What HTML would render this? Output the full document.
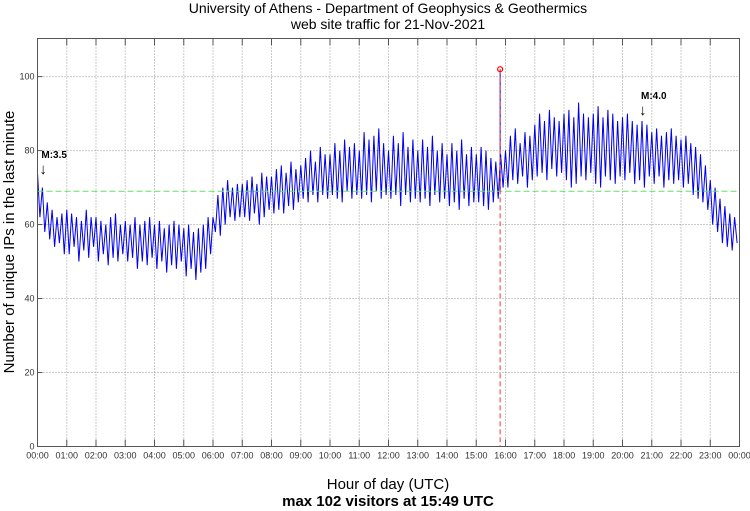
<!DOCTYPE html>
<html><head><meta charset="utf-8"><style>
body{margin:0;background:#fff}
svg{display:block;font-family:"Liberation Sans",sans-serif}
</style></head><body>
<svg id="chart" width="750" height="511" viewBox="0 0 750 511">
<text x="388" y="13" font-size="14" text-anchor="middle">University of Athens - Department of Geophysics &amp; Geothermics</text>
<text x="388" y="29" font-size="14" text-anchor="middle">web site traffic for 21-Nov-2021</text>
<g id="grid"></g>
<g id="series"></g>
<rect x="37.5" y="38.5" width="702" height="408" fill="none" stroke="#555" stroke-width="1"/>
<g id="axes"></g>
<text transform="translate(14,242) rotate(-90)" font-size="15" text-anchor="middle">Number of unique IPs in the last minute</text>
<text x="388" y="489" font-size="15" text-anchor="middle">Hour of day (UTC)</text>
<text x="388" y="506" font-size="15" font-weight="bold" text-anchor="middle">max 102 visitors at 15:49 UTC</text>
</svg>
<script>
const values = [
74,62,70,58,66,56,64,54,62,55,63,52,
64,52,63,54,62,50,61,53,64,51,62,54,
62,50,61,52,60,49,62,51,63,50,60,52,
61,50,60,51,62,48,60,50,61,49,62,51,
60,48,61,50,59,47,60,49,61,48,60,50,
59,46,60,48,58,45,59,47,60,48,62,52,
62,58,68,57,70,60,72,62,70,61,71,62,
71,62,72,61,73,63,71,60,74,62,73,64,
73,63,75,64,76,63,74,65,77,64,75,66,
76,67,78,66,80,68,77,66,81,68,79,67,
79,68,82,67,80,66,83,69,81,67,82,68,
80,67,85,68,83,66,84,69,86,67,82,68,
80,67,84,68,82,65,85,68,81,66,83,67,
80,66,83,67,81,65,84,68,80,66,82,67,
79,65,82,66,80,64,83,67,79,65,81,66,
79,66,81,65,80,64,78,66,77,67,79,70,
80,70,84,72,86,71,82,73,85,70,84,72,
87,73,90,74,88,72,91,75,89,73,88,74,
90,72,91,70,89,71,93,73,90,72,89,74,
90,71,92,70,89,73,91,72,90,71,88,73,
89,72,90,74,88,71,87,72,88,70,87,73,
85,71,86,73,84,70,85,72,86,71,84,72,
83,70,84,71,82,68,81,67,79,66,76,64,
72,60,70,58,67,55,65,54,63,53,62,55];
const stepMinutes = 5;
const yTicks = [0,20,40,60,80,100];
const xTickLabels = ["00:00","01:00","02:00","03:00","04:00","05:00","06:00","07:00","08:00","09:00","10:00","11:00","12:00","13:00","14:00","15:00","16:00","17:00","18:00","19:00","20:00","21:00","22:00","23:00","00:00"];
const meanValue = 69;
const maxValue = 102;
const maxMinute = 15*60+49;
const annotations = [{label:"M:3.5", minute:10, value:78},{label:"M:4.0", minute:20*60+40, value:94}];

const L=37.5,R=739.5,T=38.5,B=446.5,YMAX=110.3;
const xs=m=>L+(R-L)*m/1440;
const ys=v=>B-(B-T)*v/YMAX;
const NS="http://www.w3.org/2000/svg";
function mk(tag,attrs,parent){const e=document.createElementNS(NS,tag);for(const k in attrs)e.setAttribute(k,attrs[k]);parent.appendChild(e);return e;}
const grid=document.getElementById('grid'),axes=document.getElementById('axes'),ser=document.getElementById('series');
xTickLabels.forEach((t,i)=>{const x=xs(i*60);
 if(i>0&&i<24){const g=mk('line',{x1:x,x2:x,y1:T,y2:B,stroke:'#999','stroke-dasharray':'1,2'},grid);}
 const tk=mk('line',{x1:x,x2:x,y1:B,y2:B-7,stroke:'#555'},axes);
 const tk2=mk('line',{x1:x,x2:x,y1:T,y2:T+7,stroke:'#555'},axes);
 const tx=mk('text',{x:x,y:B+12,'font-size':9,'text-anchor':'middle',fill:'#333'},axes);tx.textContent=t;});
yTicks.forEach(v=>{const y=ys(v);
 if(v>0){const g=mk('line',{x1:L,x2:R,y1:y,y2:y,stroke:'#999','stroke-dasharray':'1,2'},grid);}
 const tk=mk('line',{x1:L,x2:L+5,y1:y,y2:y,stroke:'#555'},axes);
 const tx=mk('text',{x:L-3,y:y+3,'font-size':9,'text-anchor':'end',fill:'#333'},axes);tx.textContent=v;});
const pts=values.map((v,i)=>xs(i*stepMinutes).toFixed(1)+','+ys(v).toFixed(1)).join(' ');
const pl=mk('polyline',{points:pts,fill:'none',stroke:'#0000ee','stroke-width':1},ser);

const sp=mk('line',{x1:xs(maxMinute),x2:xs(maxMinute),y1:ys(maxValue),y2:ys(meanValue),stroke:'#0000ee'},ser);

const ml=mk('line',{x1:L,x2:R,y1:ys(meanValue),y2:ys(meanValue),stroke:'#66dd66','stroke-dasharray':'6,3','stroke-width':1},ser);

const rl=mk('line',{x1:xs(maxMinute),x2:xs(maxMinute),y1:ys(maxValue),y2:B,stroke:'#ff3333','stroke-dasharray':'5,3'},ser);

const rc=mk('circle',{cx:xs(maxMinute),cy:ys(maxValue),r:2.5,fill:'none',stroke:'#ff0000','stroke-width':1.2},ser);

annotations.forEach(a=>{const x=xs(a.minute),y=ys(a.value);
 const t=mk('text',{x:x-1,y:y,'font-size':10,'font-weight':'bold'},ser);t.textContent=a.label;
 const ar=mk('text',{x:x-3,y:y+16,'font-size':15},ser);ar.textContent='↓';});
</script>
</body></html>
